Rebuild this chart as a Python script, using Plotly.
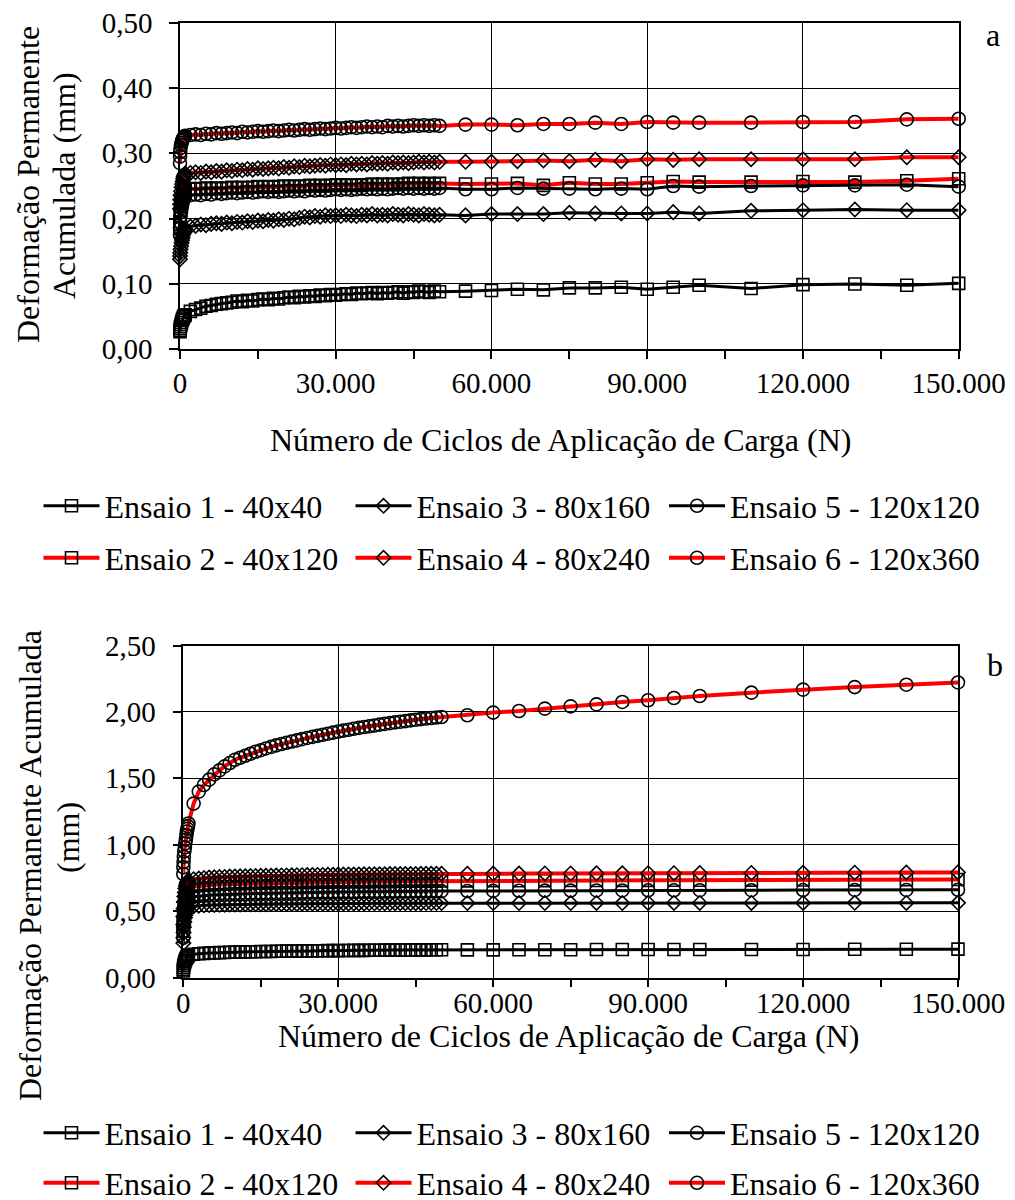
import plotly.graph_objects as go

# ---------------- data ----------------
# cycles (N): early readings, every 1000 up to 50 000, then every 5000 / 10000
cycles = [1, 10, 50, 100, 200, 300, 400, 500, 600, 700, 800, 900,
          1000, 2000, 3000, 4000, 5000, 6000, 7000, 8000, 9000, 10000,
          11000, 12000, 13000, 14000, 15000, 16000, 17000, 18000, 19000, 20000,
          21000, 22000, 23000, 24000, 25000, 26000, 27000, 28000, 29000, 30000,
          31000, 32000, 33000, 34000, 35000, 36000, 37000, 38000, 39000, 40000,
          41000, 42000, 43000, 44000, 45000, 46000, 47000, 48000, 49000, 50000,
          55000, 60000, 65000, 70000, 75000, 80000, 85000, 90000, 95000, 100000,
          110000, 120000, 130000, 140000, 150000]

series_names = ["Ensaio 1 - 40x40", "Ensaio 2 - 40x120", "Ensaio 3 - 80x160",
                "Ensaio 4 - 80x240", "Ensaio 5 - 120x120", "Ensaio 6 - 120x360"]

# ---- chart a (mm) ----
ensaio1_a = [0.027, 0.029, 0.032, 0.035, 0.038, 0.041, 0.044, 0.046, 0.048, 0.050, 0.051, 0.052,
             0.053, 0.058, 0.061, 0.063, 0.066, 0.067, 0.069, 0.070, 0.071, 0.072,
             0.074, 0.073, 0.075, 0.074, 0.076, 0.077, 0.076, 0.078, 0.077, 0.079,
             0.080, 0.079, 0.081, 0.080, 0.082, 0.081, 0.083, 0.082, 0.084, 0.083,
             0.084, 0.085, 0.084, 0.086, 0.085, 0.086, 0.087, 0.085, 0.087, 0.086,
             0.087, 0.088, 0.086, 0.088, 0.087, 0.089, 0.088, 0.087, 0.089, 0.088,
             0.089, 0.090, 0.092, 0.091, 0.094, 0.094, 0.095, 0.092, 0.095, 0.098,
             0.093, 0.099, 0.100, 0.098, 0.101]
ensaio2_a = [0.185, 0.195, 0.205, 0.213, 0.220, 0.226, 0.231, 0.235, 0.238, 0.241, 0.243, 0.244,
             0.245, 0.246, 0.245, 0.246, 0.247, 0.246, 0.247, 0.246, 0.247, 0.248,
             0.247, 0.248, 0.247, 0.248, 0.249, 0.248, 0.249, 0.248, 0.249, 0.250,
             0.249, 0.250, 0.249, 0.250, 0.251, 0.250, 0.251, 0.250, 0.251, 0.252,
             0.251, 0.252, 0.251, 0.252, 0.251, 0.252, 0.253, 0.252, 0.253, 0.252,
             0.253, 0.252, 0.253, 0.254, 0.253, 0.254, 0.253, 0.254, 0.253, 0.254,
             0.253, 0.253, 0.254, 0.251, 0.255, 0.253, 0.253, 0.255, 0.257, 0.256,
             0.256, 0.257, 0.256, 0.258, 0.261]
ensaio3_a = [0.138, 0.143, 0.148, 0.153, 0.158, 0.163, 0.167, 0.171, 0.175, 0.178, 0.181, 0.183,
             0.185, 0.188, 0.189, 0.191, 0.190, 0.192, 0.193, 0.192, 0.194, 0.193,
             0.195, 0.194, 0.196, 0.195, 0.197, 0.196, 0.198, 0.197, 0.199, 0.198,
             0.200, 0.199, 0.201, 0.203, 0.202, 0.204, 0.203, 0.205, 0.204, 0.205,
             0.204, 0.206, 0.205, 0.204, 0.206, 0.205, 0.207, 0.205, 0.206, 0.205,
             0.207, 0.206, 0.205, 0.207, 0.206, 0.205, 0.207, 0.206, 0.205, 0.206,
             0.205, 0.207, 0.207, 0.207, 0.209, 0.208, 0.208, 0.208, 0.210, 0.208,
             0.212, 0.213, 0.214, 0.213, 0.213]
ensaio4_a = [0.215, 0.222, 0.229, 0.236, 0.242, 0.248, 0.253, 0.257, 0.261, 0.264, 0.266, 0.268,
             0.269, 0.270, 0.271, 0.270, 0.272, 0.271, 0.273, 0.272, 0.274, 0.273,
             0.275, 0.274, 0.276, 0.275, 0.277, 0.276, 0.277, 0.278, 0.277, 0.279,
             0.278, 0.280, 0.279, 0.281, 0.280, 0.281, 0.282, 0.281, 0.283, 0.282,
             0.283, 0.282, 0.284, 0.283, 0.284, 0.283, 0.285, 0.284, 0.285, 0.284,
             0.286, 0.285, 0.286, 0.285, 0.286, 0.287, 0.286, 0.287, 0.286, 0.287,
             0.287, 0.287, 0.288, 0.289, 0.288, 0.290, 0.288, 0.291, 0.290, 0.291,
             0.291, 0.291, 0.291, 0.294, 0.294]
ensaio5_a = [0.175, 0.185, 0.195, 0.203, 0.210, 0.216, 0.221, 0.225, 0.228, 0.231, 0.233, 0.234,
             0.235, 0.236, 0.237, 0.236, 0.238, 0.237, 0.239, 0.238, 0.239, 0.240,
             0.239, 0.240, 0.241, 0.240, 0.241, 0.242, 0.241, 0.242, 0.241, 0.242,
             0.243, 0.242, 0.243, 0.242, 0.244, 0.243, 0.244, 0.243, 0.244, 0.245,
             0.244, 0.245, 0.244, 0.245, 0.246, 0.245, 0.246, 0.245, 0.246, 0.245,
             0.246, 0.247, 0.246, 0.247, 0.246, 0.247, 0.246, 0.247, 0.246, 0.247,
             0.245, 0.245, 0.247, 0.246, 0.246, 0.245, 0.246, 0.245, 0.250, 0.249,
             0.250, 0.251, 0.251, 0.252, 0.249]
ensaio6_a = [0.285, 0.295, 0.302, 0.308, 0.313, 0.316, 0.319, 0.321, 0.323, 0.324, 0.325, 0.326,
             0.327, 0.328, 0.329, 0.328, 0.330, 0.329, 0.331, 0.330, 0.331, 0.332,
             0.331, 0.333, 0.332, 0.333, 0.334, 0.333, 0.334, 0.335, 0.334, 0.335,
             0.336, 0.335, 0.336, 0.337, 0.336, 0.337, 0.338, 0.337, 0.338, 0.339,
             0.338, 0.339, 0.340, 0.339, 0.340, 0.341, 0.340, 0.341, 0.340, 0.342,
             0.341, 0.342, 0.341, 0.342, 0.343, 0.342, 0.343, 0.342, 0.343, 0.342,
             0.344, 0.344, 0.343, 0.345, 0.345, 0.347, 0.345, 0.348, 0.347, 0.347,
             0.347, 0.348, 0.348, 0.352, 0.353]

# ---- chart b (mm) ----
ensaio1_b = [0.050, 0.060, 0.075, 0.090, 0.105, 0.118, 0.130, 0.140, 0.148, 0.155, 0.160, 0.165,
             0.170, 0.176, 0.180, 0.182, 0.185, 0.186, 0.188, 0.189, 0.191, 0.192,
             0.193, 0.194, 0.195, 0.195, 0.196, 0.197, 0.197, 0.198, 0.198, 0.199,
             0.199, 0.200, 0.200, 0.201, 0.201, 0.202, 0.202, 0.203, 0.203, 0.203,
             0.204, 0.204, 0.205, 0.205, 0.205, 0.206, 0.206, 0.206, 0.207, 0.207,
             0.207, 0.208, 0.208, 0.208, 0.209, 0.209, 0.209, 0.210, 0.210, 0.210,
             0.209, 0.209, 0.210, 0.210, 0.210, 0.211, 0.211, 0.212, 0.211, 0.211,
             0.211, 0.212, 0.213, 0.213, 0.214]
ensaio2_b = [0.350, 0.400, 0.450, 0.500, 0.540, 0.570, 0.600, 0.620, 0.640, 0.655, 0.665, 0.672,
             0.678, 0.686, 0.691, 0.695, 0.698, 0.700, 0.702, 0.703, 0.705, 0.706,
             0.707, 0.708, 0.709, 0.710, 0.711, 0.712, 0.712, 0.713, 0.714, 0.714,
             0.715, 0.716, 0.716, 0.717, 0.717, 0.718, 0.718, 0.719, 0.719, 0.720,
             0.720, 0.721, 0.721, 0.722, 0.722, 0.722, 0.723, 0.723, 0.724, 0.724,
             0.724, 0.725, 0.725, 0.725, 0.726, 0.726, 0.726, 0.727, 0.727, 0.727,
             0.728, 0.729, 0.729, 0.730, 0.731, 0.731, 0.732, 0.732, 0.733, 0.733,
             0.734, 0.735, 0.736, 0.737, 0.738]
ensaio3_b = [0.260, 0.300, 0.340, 0.380, 0.420, 0.450, 0.470, 0.490, 0.505, 0.515, 0.522, 0.527,
             0.531, 0.537, 0.541, 0.544, 0.546, 0.547, 0.548, 0.549, 0.550, 0.551,
             0.551, 0.552, 0.552, 0.553, 0.553, 0.553, 0.554, 0.554, 0.554, 0.555,
             0.555, 0.555, 0.556, 0.556, 0.556, 0.556, 0.557, 0.557, 0.557, 0.557,
             0.558, 0.558, 0.558, 0.558, 0.558, 0.559, 0.559, 0.559, 0.559, 0.559,
             0.560, 0.560, 0.560, 0.560, 0.560, 0.560, 0.561, 0.561, 0.561, 0.561,
             0.561, 0.561, 0.561, 0.561, 0.561, 0.562, 0.561, 0.562, 0.562, 0.562,
             0.562, 0.562, 0.563, 0.562, 0.563]
ensaio4_b = [0.400, 0.460, 0.520, 0.570, 0.610, 0.640, 0.670, 0.690, 0.705, 0.715, 0.722, 0.728,
             0.733, 0.741, 0.746, 0.750, 0.753, 0.755, 0.757, 0.758, 0.760, 0.761,
             0.762, 0.763, 0.764, 0.765, 0.766, 0.767, 0.767, 0.768, 0.769, 0.769,
             0.770, 0.771, 0.771, 0.772, 0.772, 0.773, 0.773, 0.774, 0.774, 0.775,
             0.775, 0.776, 0.776, 0.776, 0.777, 0.777, 0.778, 0.778, 0.778, 0.779,
             0.779, 0.779, 0.780, 0.780, 0.780, 0.781, 0.781, 0.781, 0.782, 0.782,
             0.782, 0.783, 0.783, 0.784, 0.784, 0.785, 0.785, 0.786, 0.786, 0.787,
             0.788, 0.789, 0.790, 0.791, 0.792]
ensaio5_b = [0.300, 0.350, 0.390, 0.430, 0.470, 0.500, 0.530, 0.550, 0.565, 0.578, 0.588, 0.595,
             0.600, 0.608, 0.613, 0.617, 0.620, 0.622, 0.624, 0.626, 0.627, 0.629,
             0.630, 0.631, 0.632, 0.633, 0.634, 0.635, 0.636, 0.637, 0.637, 0.638,
             0.639, 0.639, 0.640, 0.641, 0.641, 0.642, 0.642, 0.643, 0.643, 0.644,
             0.644, 0.645, 0.645, 0.646, 0.646, 0.646, 0.647, 0.647, 0.648, 0.648,
             0.648, 0.649, 0.649, 0.649, 0.650, 0.650, 0.650, 0.651, 0.651, 0.651,
             0.652, 0.653, 0.654, 0.655, 0.655, 0.656, 0.656, 0.657, 0.657, 0.658,
             0.658, 0.659, 0.660, 0.660, 0.661]
ensaio6_b = [0.780, 0.830, 0.870, 0.910, 0.950, 0.980, 1.010, 1.040, 1.070, 1.100, 1.120, 1.140,
             1.160, 1.310, 1.400, 1.450, 1.490, 1.530, 1.560, 1.590, 1.615, 1.640,
             1.655, 1.670, 1.685, 1.700, 1.712, 1.725, 1.737, 1.748, 1.758, 1.768,
             1.777, 1.786, 1.795, 1.804, 1.812, 1.820, 1.828, 1.836, 1.844, 1.852,
             1.859, 1.866, 1.873, 1.880, 1.886, 1.892, 1.898, 1.904, 1.910, 1.916,
             1.921, 1.926, 1.931, 1.936, 1.941, 1.946, 1.950, 1.954, 1.958, 1.962,
             1.975, 1.995, 2.007, 2.025, 2.042, 2.057, 2.075, 2.088, 2.105, 2.120,
             2.145, 2.168, 2.187, 2.205, 2.222]

x_ticks = [0, 30000, 60000, 90000, 120000, 150000]
y_ticks_a = [0.0, 0.1, 0.2, 0.3, 0.4, 0.5]
y_ticks_b = [0.0, 0.5, 1.0, 1.5, 2.0, 2.5]

series_a = [ensaio1_a, ensaio2_a, ensaio3_a, ensaio4_a, ensaio5_a, ensaio6_a]
series_b = [ensaio1_b, ensaio2_b, ensaio3_b, ensaio4_b, ensaio5_b, ensaio6_b]
for s in series_a + series_b:
    assert len(s) == len(cycles), len(s)

# ---------------- styling ----------------
FONT = "Liberation Serif"
symbols = ["square-open", "square-open", "diamond-open", "diamond-open", "circle-open", "circle-open"]
sizes = [12, 12, 11, 11, 13, 13]
line_colors = ["black", "red", "black", "red", "black", "red"]
line_widths = [3, 4, 3, 4, 3, 4]

# legend grid: series i -> column i // 2, row i % 2 (reference pixel positions)
legend_col_x = [30.5, 342.5, 656]
legend_row_y_a = [508, 560]
legend_row_y_b = [1135, 1185]

# the page body has an 8px margin: the figure is sized/positioned to compensate
OFF = 8
W, H = 1015 - OFF, 1200 - OFF

def FX(px):
    return (px - OFF) / W

def FY(py):
    return 1 - (py - OFF) / H

fig = go.Figure()
legends = {}

def leg(xfig, ycenter):
    return dict(orientation="h", x=xfig / W, xanchor="left", y=FY(ycenter - 2), yanchor="middle",
                itemwidth=56,
                font=dict(family=FONT, size=32, color="black"),
                bgcolor="rgba(0,0,0,0)", borderwidth=0)

def add_series(vals, i, xa, ya, rows):
    key = "legend" if not legends else "legend%d" % (len(legends) + 1)
    legends[key] = leg(legend_col_x[i // 2], rows[i % 2])
    fig.add_trace(go.Scatter(
        x=cycles, y=vals, name=series_names[i], mode="lines+markers",
        xaxis=xa, yaxis=ya, legend=key, cliponaxis=False,
        line=dict(color=line_colors[i], width=line_widths[i]),
        marker=dict(symbol=symbols[i], size=sizes[i], color="black",
                    line=dict(color="black", width=1.6)),
    ))

for i, vals in enumerate(series_a):
    add_series(vals, i, "x", "y", legend_row_y_a)
for i, vals in enumerate(series_b):
    add_series(vals, i, "x2", "y2", legend_row_y_b)


def xax(d0, d1, anchor, standoff):
    return dict(domain=[FX(d0), FX(d1)], anchor=anchor, range=[0, 150000],
                tickvals=x_ticks, tickformat=",d",
                showgrid=True, gridcolor="black", gridwidth=1.3,
                showline=True, linecolor="black", linewidth=1.5, mirror=True,
                ticks="outside", ticklen=8, tickwidth=1.5, tickcolor="black",
                minor=dict(dtick=15000, ticks="outside", ticklen=8, tickwidth=1.5,
                           tickcolor="black", showgrid=False),
                zeroline=False, ticklabelstandoff=standoff, ticklabeloverflow="allow",
                tickfont=dict(family=FONT, size=29, color="black"))

def yax(top, bottom, anchor, rng, vals):
    return dict(domain=[FY(bottom), FY(top)], anchor=anchor, range=rng,
                tickvals=vals, tickformat=".2f",
                showgrid=True, gridcolor="black", gridwidth=1.3,
                showline=True, linecolor="black", linewidth=1.5, mirror=True,
                ticks="outside", ticklen=9, tickwidth=1.5, tickcolor="black",
                zeroline=False, ticklabelstandoff=11, ticklabeloverflow="allow",
                tickfont=dict(family=FONT, size=29, color="black"))

ann_font = dict(family=FONT, size=32, color="black")

def ann(text, px, py, angle=0):
    return dict(text=text, x=FX(px), y=FY(py), xref="paper", yref="paper",
                xanchor="center", yanchor="middle", textangle=angle,
                showarrow=False, font=ann_font)

annotations = [
    ann("a", 993, 35),
    ann("b", 995, 665),
    ann("Número de Ciclos de Aplicação de Carga (N)", 560, 440),
    ann("Número de Ciclos de Aplicação de Carga (N)", 568, 1036),
    ann("Deformação Permanente", 28, 185, -90),
    ann("Acumulada (mm)", 64, 186, -90),
    ann("Deformação Permanente Acumulada", 30, 866, -90),
    ann("(mm)", 68, 838, -90),
]

fig.update_layout(
    width=W, height=H, margin=dict(l=0, r=0, t=0, b=0, autoexpand=False),
    paper_bgcolor="white", plot_bgcolor="white",
    separators=",.",
    font=dict(family=FONT, color="black"),
    xaxis=xax(180, 958.7, "y", -1),
    yaxis=yax(22.7, 349.3, "x", [0, 0.5], y_ticks_a),
    xaxis2=xax(183.3, 958, "y2", -9),
    yaxis2=yax(645.5, 977.6, "x2", [0, 2.5], y_ticks_b),
    annotations=annotations,
    showlegend=True,
    **legends,
)

fig.write_html("out.html")
